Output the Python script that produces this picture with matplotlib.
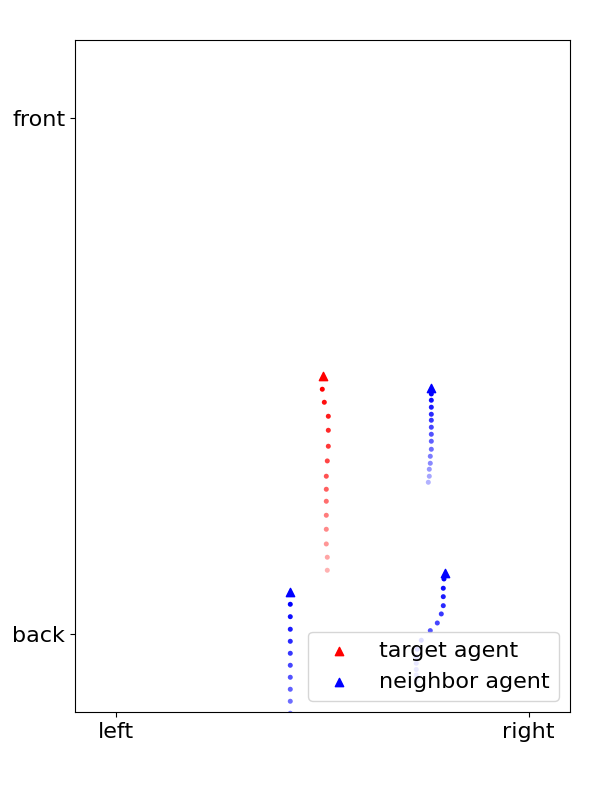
import numpy as np
import matplotlib
matplotlib.use("Agg")
import matplotlib.pyplot as plt

# x tick labels / y tick labels
x_tick_labels = ["left", "right"]
y_tick_labels = ["back", "front"]

# target agent: current position and history (newest -> oldest)
target_pos = (0.50, 0.50)
target_hist_x = [0.4995, 0.5044, 0.5141, 0.5141, 0.5141, 0.5116, 0.5092, 0.5092, 0.5092, 0.5092, 0.5092, 0.5092, 0.5116, 0.5116]
target_hist_y = [0.4744, 0.4492, 0.4221, 0.3950, 0.3641, 0.3357, 0.3061, 0.2809, 0.2577, 0.2306, 0.2035, 0.1751, 0.1494, 0.1242]

# neighbor agents
nb1_pos = (0.7623, 0.4763)
nb1_hist_x = [0.7638, 0.7638, 0.7638, 0.7638, 0.7638, 0.7638, 0.7638, 0.7638, 0.7638, 0.7613, 0.7613, 0.7589, 0.7589, 0.7565]
nb1_hist_y = [0.4653, 0.4531, 0.4396, 0.4260, 0.4144, 0.4009, 0.3873, 0.3738, 0.3583, 0.3447, 0.3312, 0.3196, 0.3061, 0.2944]

nb2_pos = (0.4212, 0.0822)
nb2_hist_x = [0.4219] * 14
nb2_hist_y = [0.0584, 0.0344, 0.0101, -0.0132, -0.0364, -0.0596, -0.0828, -0.1060, -0.1292, -0.1524, -0.1757, -0.1989, -0.2221, -0.2453]

nb3_pos = (0.7970, 0.1196)
nb3_hist_x = [0.7945, 0.7928, 0.7928, 0.7928, 0.7880, 0.7783, 0.7613, 0.7395, 0.7298, 0.7273, 0.7273, 0.7273, 0.7273, 0.7273]
nb3_hist_y = [0.1074, 0.0894, 0.0731, 0.0557, 0.0397, 0.0222, 0.0074, -0.0112, -0.0286, -0.0429, -0.0557, -0.0677, -0.0783, -0.0880]

fig = plt.figure(figsize=(6, 8), dpi=100)
ax = fig.add_axes([0.125, 0.11, 0.825, 0.84])

def draw(pos, hx, hy, color, label):
    n = len(hx)
    alphas = np.linspace(1.0, 0.3, n)
    rgba = np.zeros((n, 4))
    rgba[:, :3] = matplotlib.colors.to_rgb(color)
    rgba[:, 3] = alphas
    ax.scatter(hx, hy, s=13, c=rgba, marker='o', linewidths=0)
    ax.scatter([pos[0]], [pos[1]], s=36, c=color, marker='^', label=label)

draw(target_pos, target_hist_x, target_hist_y, 'red', 'target agent')
draw(nb1_pos, nb1_hist_x, nb1_hist_y, 'blue', 'neighbor agent')
draw(nb2_pos, nb2_hist_x, nb2_hist_y, 'blue', None)
draw(nb3_pos, nb3_hist_x, nb3_hist_y, 'blue', None)

ax.set_xlim(-0.1, 1.1)
ax.set_ylim(-0.15, 1.15)
ax.set_xticks([0, 1])
ax.set_xticklabels(x_tick_labels, fontsize=16)
ax.set_yticks([0, 1])
ax.set_yticklabels(y_tick_labels, fontsize=16)
ax.legend(loc='lower right', fontsize=16)

fig.savefig("out.png", dpi=100)
